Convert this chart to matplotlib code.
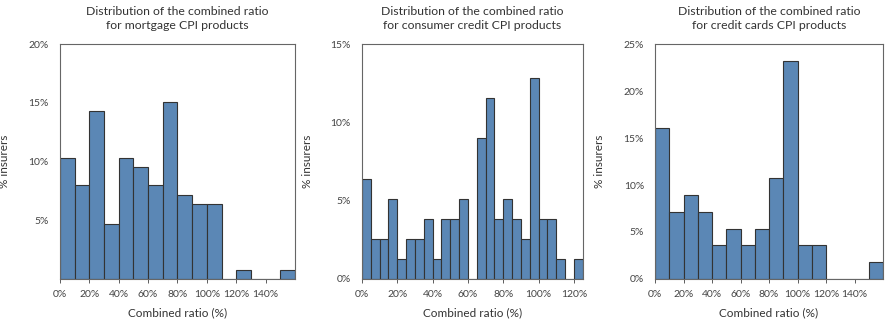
import numpy as np
import matplotlib
matplotlib.use('Agg')
import matplotlib.pyplot as plt
from matplotlib.ticker import FuncFormatter

plt.rcParams['font.family'] = ['Lato', 'DejaVu Sans']

# share of insurers (%) per combined-ratio bin
mortgage_pct = [10.26, 7.98, 14.3, 4.66, 10.26, 9.52, 7.98, 15.08,
                7.13, 6.36, 6.36, 0, 0.74, 0, 0, 0.74]
consumer_pct = [6.41, 2.56, 2.56, 5.13, 1.28, 2.56, 2.56, 3.85, 1.28, 3.85,
                3.85, 5.13, 0, 8.97, 11.54, 3.85, 5.13, 3.85, 2.56, 12.82,
                3.85, 3.85, 1.28, 0, 1.28]
cards_pct = [16.07, 7.14, 8.93, 7.14, 3.57, 5.36, 3.57, 5.36,
             10.71, 23.21, 3.57, 3.57, 0, 0, 0, 1.79]

panels = [
    ("Distribution of the combined ratio\nfor mortgage CPI products",
     mortgage_pct, 10, 160, 20, [5, 10, 15, 20], range(0, 160, 20)),
    ("Distribution of the combined ratio\nfor consumer credit CPI products",
     consumer_pct, 5, 125, 15, [0, 5, 10, 15], range(0, 121, 20)),
    ("Distribution of the combined ratio\nfor credit cards CPI products",
     cards_pct, 10, 160, 25, [0, 5, 10, 15, 20, 25], range(0, 160, 20)),
]

positions = [[0.0676, 0.139, 0.265, 0.725],
             [0.408, 0.139, 0.249, 0.725],
             [0.7385, 0.139, 0.257, 0.725]]
ylab_x = [-0.213, -0.222, -0.219]

fig = plt.figure(figsize=(8.87, 3.24), dpi=100)
pct = FuncFormatter(lambda v, p: '%d%%' % v)

for (title, vals, bw, xmax, ymax, yt, xt), pos, lx in zip(panels, positions, ylab_x):
    ax = fig.add_axes(pos)
    lefts = np.arange(len(vals)) * bw
    ax.bar(lefts, vals, width=bw, align='edge', color='#5b87b5',
           edgecolor='#333333', linewidth=0.8)
    ax.set_xlim(0, xmax)
    ax.set_ylim(0, ymax)
    ax.set_yticks(yt)
    ax.set_xticks(list(xt))
    ax.xaxis.set_major_formatter(pct)
    ax.yaxis.set_major_formatter(pct)
    ax.tick_params(axis='y', length=0, pad=8, labelsize=7.5, colors='#444444')
    ax.tick_params(axis='x', length=3, width=0.6, pad=5, labelsize=7.5,
                   colors='#444444')
    for s in ax.spines.values():
        s.set_color('#666666')
        s.set_linewidth(0.8)
    ax.set_title(title, fontsize=8.8, color='#333333', pad=11, linespacing=1.3)
    ax.set_xlabel('Combined ratio (%)', fontsize=8.5, color='#333333', labelpad=6)
    ax.set_ylabel('% insurers', fontsize=8.5, color='#333333')
    ax.yaxis.set_label_coords(lx, 0.5)

fig.savefig('out.png', dpi=100)
